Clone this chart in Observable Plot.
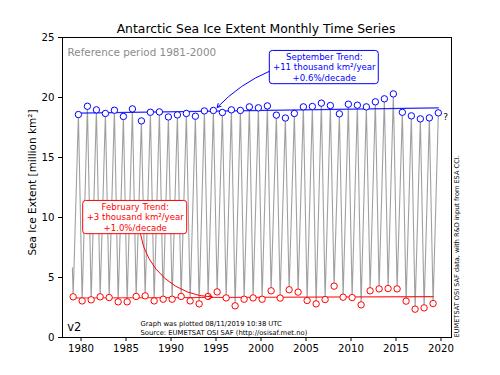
<!DOCTYPE html>
<html><head><meta charset="utf-8">
<script src="https://cdn.jsdelivr.net/npm/d3@7"></script>
<script src="https://cdn.jsdelivr.net/npm/@observablehq/plot@0.6"></script>
<style>
body{margin:0;background:#fff;}
svg{font-family:"DejaVu Sans",sans-serif;}
</style>
</head><body><div id="chart"></div>
<script>
// ---- data (million km²) ----
const years = [1979,1980,1981,1982,1983,1984,1985,1986,1987,1988,
  1989,1990,1991,1992,1993,1994,1995,1996,1997,1998,
  1999,2000,2001,2002,2003,2004,2005,2006,2007,2008,
  2009,2010,2011,2012,2013,2014,2015,2016,2017,2018,2019];
const sepExtent = [18.58,19.27,18.97,18.67,18.94,18.42,19.05,18.05,18.77,18.80,
  18.38,18.55,18.67,18.44,18.88,18.92,18.75,18.97,18.92,19.22,
  19.14,19.30,18.53,18.29,18.67,19.22,19.25,19.53,19.33,18.64,
  19.44,19.36,19.22,19.64,19.89,20.30,18.77,18.47,18.22,18.30,18.72];
const febExtent = [3.39,3.05,3.14,3.39,3.33,2.97,2.97,3.42,3.47,3.05,
  3.19,3.19,3.42,3.05,2.80,3.42,3.80,3.30,2.64,3.19,
  3.30,3.19,3.89,3.29,3.98,3.78,3.08,2.80,3.16,4.28,
  3.36,3.33,2.72,3.89,4.05,4.08,4.05,3.03,2.36,2.47,2.83];
const firstMonth = {label: "Jan 1979", extent: 5.8};
const sepTrendEnds = [18.69, 19.13];   // at Sep 1979 and Sep 2019
const febTrendEnds = [3.29, 3.41];     // at Feb 1979 and Feb 2019
const xTicks = [1980,1985,1990,1995,2000,2005,2010,2015,2020];
const yTicks = [0,5,10,15,20,25];

// ---- derived tables ----
const FEB = 1/12 + 1/24, SEP = 8/12 + 1/24, JAN = 1/24;
const sepPts = years.map((y,i)=>({t:y+SEP, v:sepExtent[i]}));
const febPts = years.map((y,i)=>({t:y+FEB, v:febExtent[i]}));
const monthly = [{t:years[0]+JAN, v:firstMonth.extent}];
years.forEach((y,i)=>{monthly.push({t:y+FEB, v:febExtent[i]}); monthly.push({t:y+SEP, v:sepExtent[i]});});
const sepTrend = [{t:years[0]+SEP, v:sepTrendEnds[0]},{t:years[years.length-1]+SEP, v:sepTrendEnds[1]}];
const febTrend = [{t:years[0]+FEB, v:febTrendEnds[0]},{t:years[years.length-1]+FEB, v:febTrendEnds[1]}];
const lastSep = sepPts[sepPts.length-1];

const BLUE = "#0000ff", RED = "#ff0000";

const chart = Plot.plot({
  width: 500, height: 375,
  marginLeft: 62, marginRight: 49, marginTop: 37, marginBottom: 38,
  style: {fontSize: "10.2px", fontFamily: "DejaVu Sans", background: "white", overflow: "visible"},
  x: {domain: [1977.94, 2021.17]},
  y: {domain: [0, 25]},
  marks: [
    Plot.line(monthly, {x:"t", y:"v", stroke:"#a0a0a0", strokeWidth:1.1}),
    Plot.line(sepTrend, {x:"t", y:"v", stroke:BLUE, strokeWidth:1.2, strokeOpacity:0.85}),
    Plot.line(febTrend, {x:"t", y:"v", stroke:RED, strokeWidth:1.2, strokeOpacity:0.85}),
    Plot.dot(sepPts, {x:"t", y:"v", r:3.2, stroke:BLUE, fill:"white", strokeWidth:1}),
    Plot.dot(febPts, {x:"t", y:"v", r:3.2, stroke:RED, fill:"white", strokeWidth:1}),
    Plot.text([lastSep], {x:"t", y:"v", text:()=>"?", dx:5, dy:4, textAnchor:"start", fontSize:9, fill:"black"}),
    // annotation arrows
    Plot.arrow([{x1:2000.98, y1:22.2, x2:1995.13, y2:19.17}], {x1:"x1", y1:"y1", x2:"x2", y2:"y2", bend:-12, stroke:BLUE, strokeWidth:1, headLength:6}),
    Plot.arrow([{x1:1986.61, y1:8.61, x2:1994.58, y2:3.38}], {x1:"x1", y1:"y1", x2:"x2", y2:"y2", bend:-40, stroke:RED, strokeWidth:1, headLength:6}),
    // annotation boxes
    Plot.rect([{x1:2000.98, x2:2013.09, y1:21.11, y2:23.88}], {x1:"x1", x2:"x2", y1:"y1", y2:"y2", fill:"white", stroke:BLUE, strokeWidth:1, rx:3}),
    Plot.text([{x:2007.03, y:22.55}], {x:"x", y:"y", text:()=>"September Trend:\n+11 thousand km²/year\n+0.6%/decade", fill:BLUE, fontSize:8.6, lineHeight:1.24, lineAnchor:"middle"}),
    Plot.rect([{x1:1980.24, x2:1991.8, y1:8.61, y2:11.38}], {x1:"x1", x2:"x2", y1:"y1", y2:"y2", fill:"white", stroke:RED, strokeWidth:1, rx:3}),
    Plot.text([{x:1986.02, y:10.05}], {x:"x", y:"y", text:()=>"February Trend:\n+3 thousand km²/year\n+1.0%/decade", fill:RED, fontSize:8.6, lineHeight:1.24, lineAnchor:"middle"}),
    // frame texts
    Plot.text(["Reference period 1981-2000"], {frameAnchor:"top-left", dx:5, dy:14.7, text:d=>d, textAnchor:"start", lineAnchor:"middle", fill:"#8c8c8c", fontSize:10.4}),
    Plot.text(["v2"], {frameAnchor:"bottom-left", dx:4.7, dy:-10.3, text:d=>d, textAnchor:"start", lineAnchor:"middle", fill:"black", fontSize:11.5}),
    Plot.text(["Graph was plotted 08/11/2019 10:38 UTC\nSource: EUMETSAT OSI SAF (http://osisaf.met.no)"], {frameAnchor:"bottom-left", dx:78, dy:-9.7, text:d=>d, textAnchor:"start", lineAnchor:"middle", lineHeight:1.28, fill:"black", fontSize:6.8}),
    Plot.text(["EUMETSAT OSI SAF data, with R&D input from ESA CCI."], {frameAnchor:"bottom-right", dx:5, dy:0, rotate:-90, text:d=>d, textAnchor:"start", lineAnchor:"middle", fill:"black", fontSize:6.6}),
    Plot.text(["Antarctic Sea Ice Extent Monthly Time Series"], {frameAnchor:"top", dx:-1, dy:-8.3, text:d=>d, textAnchor:"middle", lineAnchor:"middle", fill:"black", fontSize:12.4}),
    Plot.text(["Sea Ice Extent [million km²]"], {frameAnchor:"left", dx:-30.3, dy:-5, rotate:-90, text:d=>d, textAnchor:"middle", lineAnchor:"middle", fill:"black", fontSize:10.5}),
    // axes & frame
    Plot.axisX({ticks:xTicks, tickFormat:d=>String(d), tickSize:4, tickPadding:3, label:null, fontSize:10.2}),
    Plot.axisY({ticks:yTicks, tickSize:4, tickPadding:4, label:null, fontSize:10.2}),
    Plot.frame({stroke:"black", strokeWidth:1})
  ]
});
document.getElementById("chart").appendChild(chart);
</script>
</body></html>
